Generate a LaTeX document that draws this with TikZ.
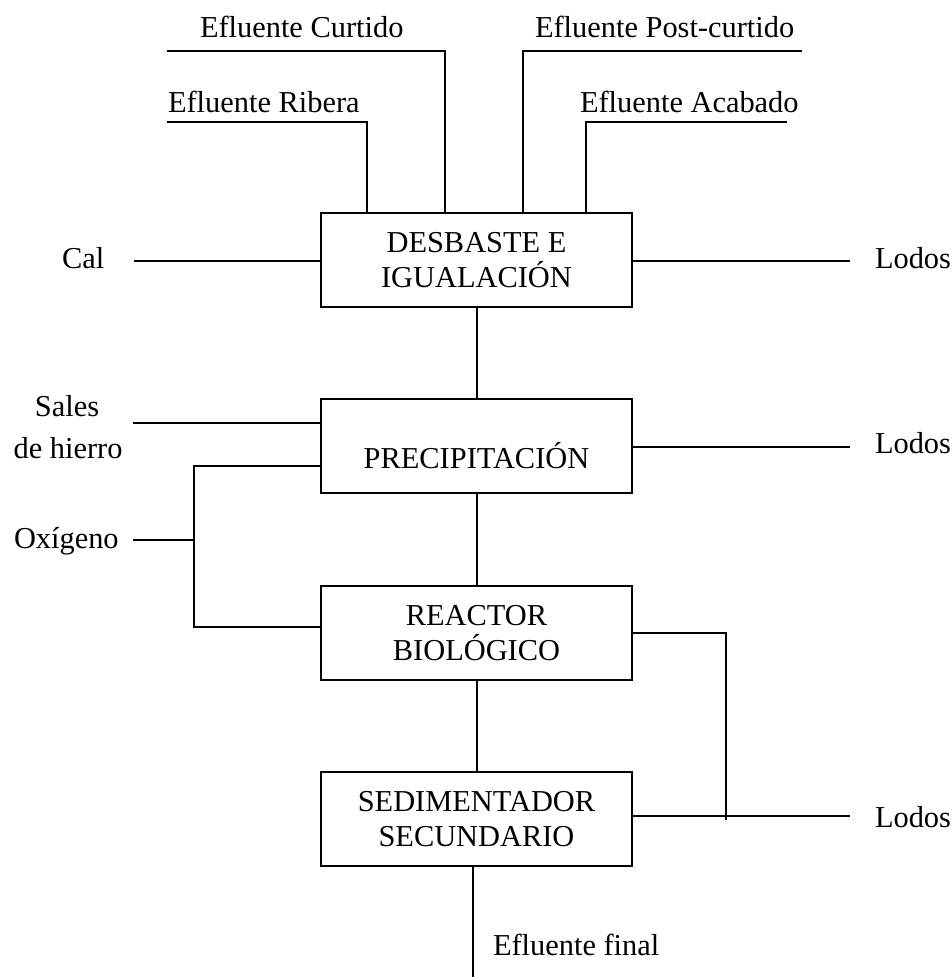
\documentclass[tikz,border=0pt]{standalone}
\usepackage{fontspec}
\setmainfont{Liberation Serif}
\begin{document}
\begin{tikzpicture}[x=1pt,y=-1pt,
  every node/.style={inner sep=0pt, outer sep=0pt},
  txt/.style={font=\fontsize{30.4}{35}\selectfont, anchor=base west},
  stage/.style={draw, line width=2pt, minimum width=311pt, minimum height=94pt,
    align=center, font=\fontsize{30.4}{35}\selectfont},
  pipe/.style={line width=2pt}]
\useasboundingbox (0,0) rectangle (952,977);

% process stages
\node[stage] (des) at (476.5,260) {DESBASTE E\\IGUALACIÓN};
\node[stage, text height=44pt, text depth=0pt] (pre) at (476.5,446) {PRECIPITACIÓN};
\node[stage] (rea) at (476.5,633) {REACTOR\\BIOLÓGICO};
\node[stage] (sed) at (476.5,819) {SEDIMENTADOR\\SECUNDARIO};

% labels
\node[txt] (cur) at (200,37) {Efluente Curtido};
\node[txt] (rib) at (168,112) {Efluente Ribera};
\node[txt] (pos) at (535,37) {Efluente Post-curtido};
\node[txt] (aca) at (580,112) {Efluente Acabado};
\node[txt] (cal) at (62,268) {Cal};
\node[txt] (lo1) at (875,268) {Lodos};
\node[txt, anchor=base] (sal) at (67,416) {Sales};
\node[txt, anchor=base] (hie) at (68,458) {de hierro};
\node[txt] (oxi) at (14,548) {Oxígeno};
\node[txt] (lo2) at (875,453) {Lodos};
\node[txt] (lo3) at (875,827) {Lodos};
\node[txt] (fin) at (493,955) {Efluente final};

% line ends
\coordinate (curA) at (167,51);
\coordinate (ribA) at (167,122);
\coordinate (posA) at (802,51);
\coordinate (acaA) at (787,122);
\coordinate (calA) at (134,261);
\coordinate (lo1A) at (850,261);
\coordinate (salA) at (133,423);
\coordinate (oxA) at (133,540);
\coordinate (oxB) at (194,540);
\coordinate (lo2A) at (850,447);
\coordinate (lo3A) at (850,816);
\coordinate (finA) at (473,977);
\coordinate (recB) at (726,820);

% inflows to the first stage
\draw[pipe] (curA) -- (445,51) -- (445,0 |- des.north);
\draw[pipe] (ribA) -- (367,122) -- (367,0 |- des.north);
\draw[pipe] (posA) -- (523,51) -- (523,0 |- des.north);
\draw[pipe] (acaA) -- (586,122) -- (586,0 |- des.north);
\draw[pipe] (calA) -- (calA -| des.west);
\draw[pipe] (des.east |- lo1A) -- (lo1A);

% main line
\draw[pipe] (477,0 |- des.south) -- (477,0 |- pre.north);
\draw[pipe] (477,0 |- pre.south) -- (477,0 |- rea.north);
\draw[pipe] (477,0 |- rea.south) -- (477,0 |- sed.north);
\draw[pipe] (473,0 |- sed.south) -- (finA);

% reagents
\draw[pipe] (salA) -- (salA -| pre.west);
\draw[pipe] (pre.west |- 0,466) -- (194,466) -- (194,627) -- (rea.west |- 0,627);
\draw[pipe] (oxA) -- (oxB);

% sludge
\draw[pipe] (pre.east |- lo2A) -- (lo2A);
\draw[pipe] (rea.east |- 0,633) -- (726,633) -- (recB);
\draw[pipe] (sed.east |- lo3A) -- (lo3A);
\end{tikzpicture}
\end{document}
